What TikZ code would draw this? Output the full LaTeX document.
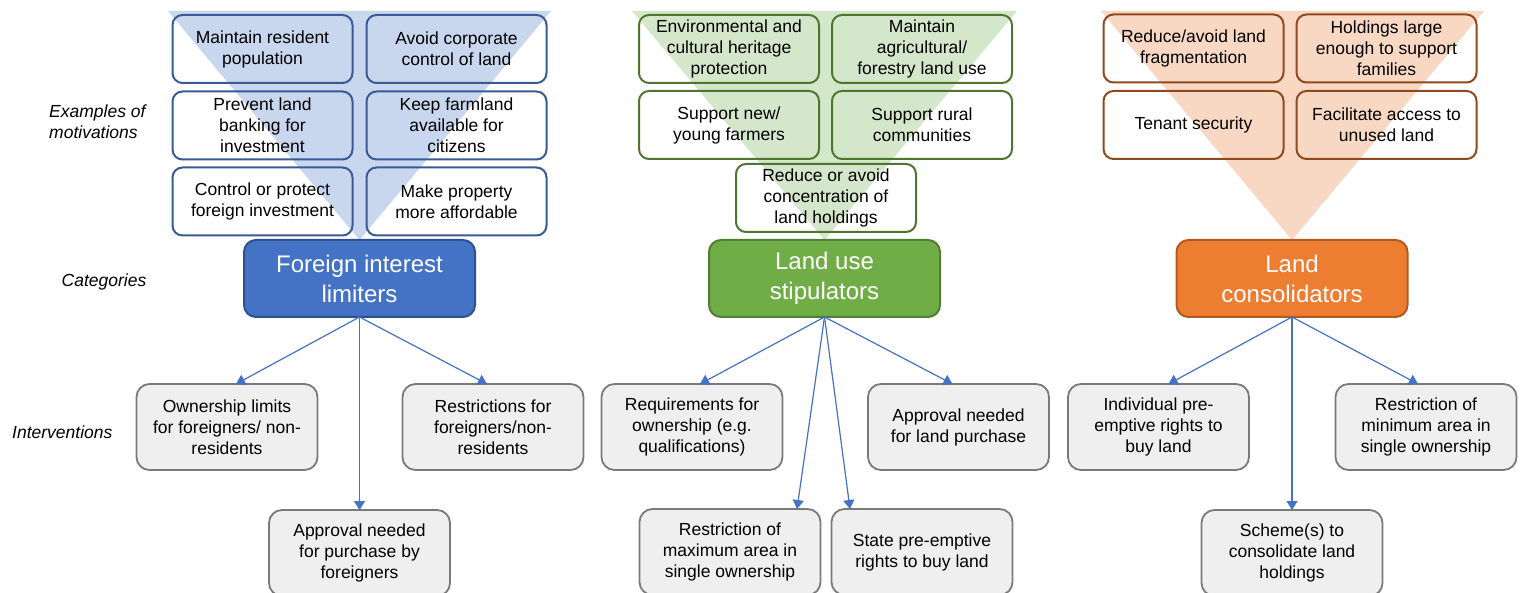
\documentclass[tikz,border=0pt]{standalone}
\usepackage{fontspec}
\setmainfont{Liberation Sans}
\usetikzlibrary{arrows.meta}
\definecolor{bluetri}{RGB}{200,214,238}
\definecolor{greentri}{RGB}{213,231,202}
\definecolor{orangetri}{RGB}{249,216,195}
\definecolor{blueedge}{RGB}{58,90,150}
\definecolor{greenedge}{RGB}{78,118,48}
\definecolor{orangeedge}{RGB}{142,74,30}
\definecolor{bluecat}{RGB}{68,114,196}
\definecolor{bluecatedge}{RGB}{47,82,143}
\definecolor{greencat}{RGB}{112,173,71}
\definecolor{greencatedge}{RGB}{80,126,50}
\definecolor{orangecat}{RGB}{237,125,49}
\definecolor{orangecatedge}{RGB}{174,90,33}
\definecolor{intfill}{RGB}{239,239,239}
\definecolor{intedge}{RGB}{122,122,122}
\definecolor{arrowblue}{RGB}{68,114,196}
\begin{document}
\begin{tikzpicture}[x=1pt,y=-1pt,
  mot/.style={draw, rounded corners=10pt, line width=2pt, minimum width=180, minimum height=68,
    inner sep=2pt, outer sep=0pt, align=center, text=black, font=\fontsize{17.5}{21}\selectfont},
  motblue/.style={mot, draw=blueedge},
  motgreen/.style={mot, draw=greenedge},
  motorange/.style={mot, draw=orangeedge},
  cat/.style={rounded corners=12pt, line width=2pt, minimum width=231, minimum height=77,
    inner sep=2pt, outer sep=0pt, align=center, text=white, font=\fontsize{24}{30}\selectfont},
  intv/.style={draw=intedge, fill=intfill, rounded corners=13pt, line width=1.8pt, minimum width=181,
    minimum height=86, inner sep=2pt, outer sep=0pt, align=center, text=black,
    font=\fontsize{17.5}{21}\selectfont},
  rowlabel/.style={align=left, inner sep=0pt, font=\fontsize{17.5}{21}\selectfont\itshape},
  arr/.style={draw=arrowblue, line width=1.2pt, -{Triangle[width=11pt,length=9pt]}}
]
\clip (0,0) rectangle (1522,593);
\fill[white] (0,0) rectangle (1522,593);

% background triangles
\fill[bluetri] (168,11) -- (551,11) -- (359.5,240) -- cycle;
\fill[greentri] (632,11) -- (1017,11) -- (824.5,240) -- cycle;
\fill[orangetri] (1101,11) -- (1484,11) -- (1292,240) -- cycle;

% row labels
\node[rowlabel, anchor=west] (lmot) at (49,122) {Examples of\\motivations};
\node[rowlabel] (lcat) at (104,282) {Categories};
\node[rowlabel, anchor=west] (lint) at (12,432) {Interventions};

% motivations: foreign interest limiters
\node[motblue] (m11) at (262.5,49) {Maintain resident\\population};
\node[motblue] (m12) at (456.5,49) {Avoid corporate\\control of land};
\node[motblue] (m21) at (262.5,125.5) {Prevent land\\banking for\\investment};
\node[motblue] (m22) at (456.5,125.5) {Keep farmland\\available for\\citizens};
\node[motblue] (m31) at (262.5,201.5) {Control or protect\\foreign investment};
\node[motblue] (m32) at (456.5,201.5) {Make property\\more affordable};

% motivations: land use stipulators
\node[motgreen] (g11) at (729,49) {Environmental and\\cultural heritage\\protection};
\node[motgreen] (g12) at (922,49) {Maintain\\agricultural/\\forestry land use};
\node[motgreen] (g21) at (729,125) {Support new/\\young farmers};
\node[motgreen] (g22) at (922,125) {Support rural\\communities};
\node[motgreen] (g3) at (826,198) {Reduce or avoid\\concentration of\\land holdings};

% motivations: land consolidators
\node[motorange] (o11) at (1193.5,48.5) {Reduce/avoid land\\fragmentation};
\node[motorange] (o12) at (1386.5,48.5) {Holdings large\\enough to support\\families};
\node[motorange] (o21) at (1193.5,125) {Tenant security};
\node[motorange] (o22) at (1386.5,125) {Facilitate access to\\unused land};

% categories
\node[cat, fill=bluecat, draw=bluecatedge] (fil) at (359.5,278.5) {Foreign interest\\limiters};
\node[cat, fill=greencat, draw=greencatedge] (lus) at (824.5,278.5) {Land use\\stipulators};
\node[cat, fill=orangecat, draw=orangecatedge] (lc) at (1292,278.5) {Land\\consolidators};

% interventions
\node[intv] (own) at (227,427) {Ownership limits\\for foreigners/ non-\\residents};
\node[intv] (res) at (493,427) {Restrictions for\\foreigners/non-\\residents};
\node[intv] (apf) at (359.5,553) {Approval needed\\for purchase by\\foreigners};

\node[intv] (req) at (692,427) {Requirements for\\ownership (e.g.\\qualifications)};
\node[intv] (apl) at (958.5,427) {Approval needed\\for land purchase};
\node[intv] (rmax) at (730,552) {Restriction of\\maximum area in\\single ownership};
\node[intv] (state) at (922,552) {State pre-emptive\\rights to buy land};

\node[intv] (ind) at (1158.5,427) {Individual pre-\\emptive rights to\\buy land};
\node[intv] (rmin) at (1426,427) {Restriction of\\minimum area in\\single ownership};
\node[intv] (sch) at (1292,553) {Scheme(s) to\\consolidate land\\holdings};

% connectors
\draw[arr] (fil.south) -- ([xshift=9pt]own.north);
\draw[arr] (fil.south) -- ([xshift=-6pt]res.north);
\draw[arr] (fil.south) -- (apf.north);

\draw[arr] (lus.south) -- ([xshift=8pt]req.north);
\draw[arr] (lus.south) -- ([xshift=-6pt]apl.north);
\draw[arr] (lus.south) -- ([xshift=67pt]rmax.north);
\draw[arr] (lus.south) -- ([xshift=-72pt]state.north);

\draw[arr] (lc.south) -- ([xshift=10pt]ind.north);
\draw[arr] (lc.south) -- ([xshift=-8pt]rmin.north);
\draw[arr] (lc.south) -- (sch.north);
\end{tikzpicture}
\end{document}
